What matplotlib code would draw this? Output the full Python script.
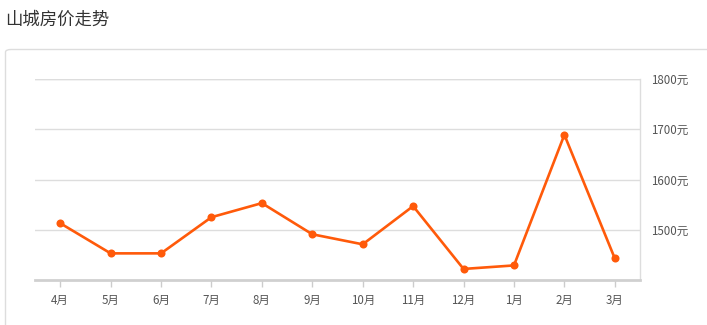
import matplotlib
matplotlib.use("Agg")
import matplotlib.pyplot as plt
from matplotlib.patches import FancyBboxPatch

plt.rcParams['font.family'] = ['Noto Sans CJK SC', 'DejaVu Sans']

months = ['4月', '5月', '6月', '7月', '8月', '9月', '10月', '11月', '12月', '1月', '2月', '3月']
prices = [1513, 1453, 1453, 1525, 1553, 1491, 1471, 1547, 1422, 1429, 1689, 1443]
y_ticks = [1500, 1600, 1700, 1800]
y_labels = ['1500元', '1600元', '1700元', '1800元']

W, H = 707, 325
fig = plt.figure(figsize=(W / 100, H / 100), dpi=100)
fig.patch.set_facecolor('white')

# title
fig.text(5 / W, 1 - 20 / H, '山城房价走势', fontsize=12.5, color='#333333',
         ha='left', va='center')

# panel border
panel = FancyBboxPatch((5.5 / W, -0.1), (W + 10) / W, (H - 49.5) / H + 0.1,
                       boxstyle='round,pad=0,rounding_size=0.008',
                       transform=fig.transFigure, facecolor='none',
                       edgecolor='#dddddd', linewidth=1.0)
fig.patches.append(panel)

ax = fig.add_axes([35 / W, 45 / H, 605 / W, (280 - 79) / H])
x = list(range(len(months)))
ax.plot(x, prices, color='#ff5a0a', linewidth=1.9, marker='o', markersize=5.8,
        markeredgewidth=0, zorder=3, clip_on=False)
ax.set_xlim(-0.5, len(months) - 0.5)
ax.set_ylim(1400, 1800)

ax.set_xticks(x)
ax.set_xticklabels(months, fontsize=8.3, color='#555555')
ax.yaxis.tick_right()
ax.set_yticks(y_ticks)
ax.set_yticklabels(y_labels, fontsize=8.3, color='#555555')
ax.tick_params(axis='y', length=0, pad=8)
ax.tick_params(axis='x', length=5, width=1, color='#cccccc', pad=5, direction='out')

ax.grid(axis='y', color='#dddddd', linewidth=1)
ax.set_axisbelow(True)
ax.spines['left'].set_visible(False)
ax.spines['top'].set_visible(False)
ax.spines['right'].set_color('#dddddd')
ax.spines['right'].set_linewidth(1)
ax.spines['bottom'].set_color('#d0d0d0')
ax.spines['bottom'].set_linewidth(2)
ax.axhline(1800, color='#dddddd', linewidth=1, zorder=0)

fig.savefig('out.png', dpi=100)
